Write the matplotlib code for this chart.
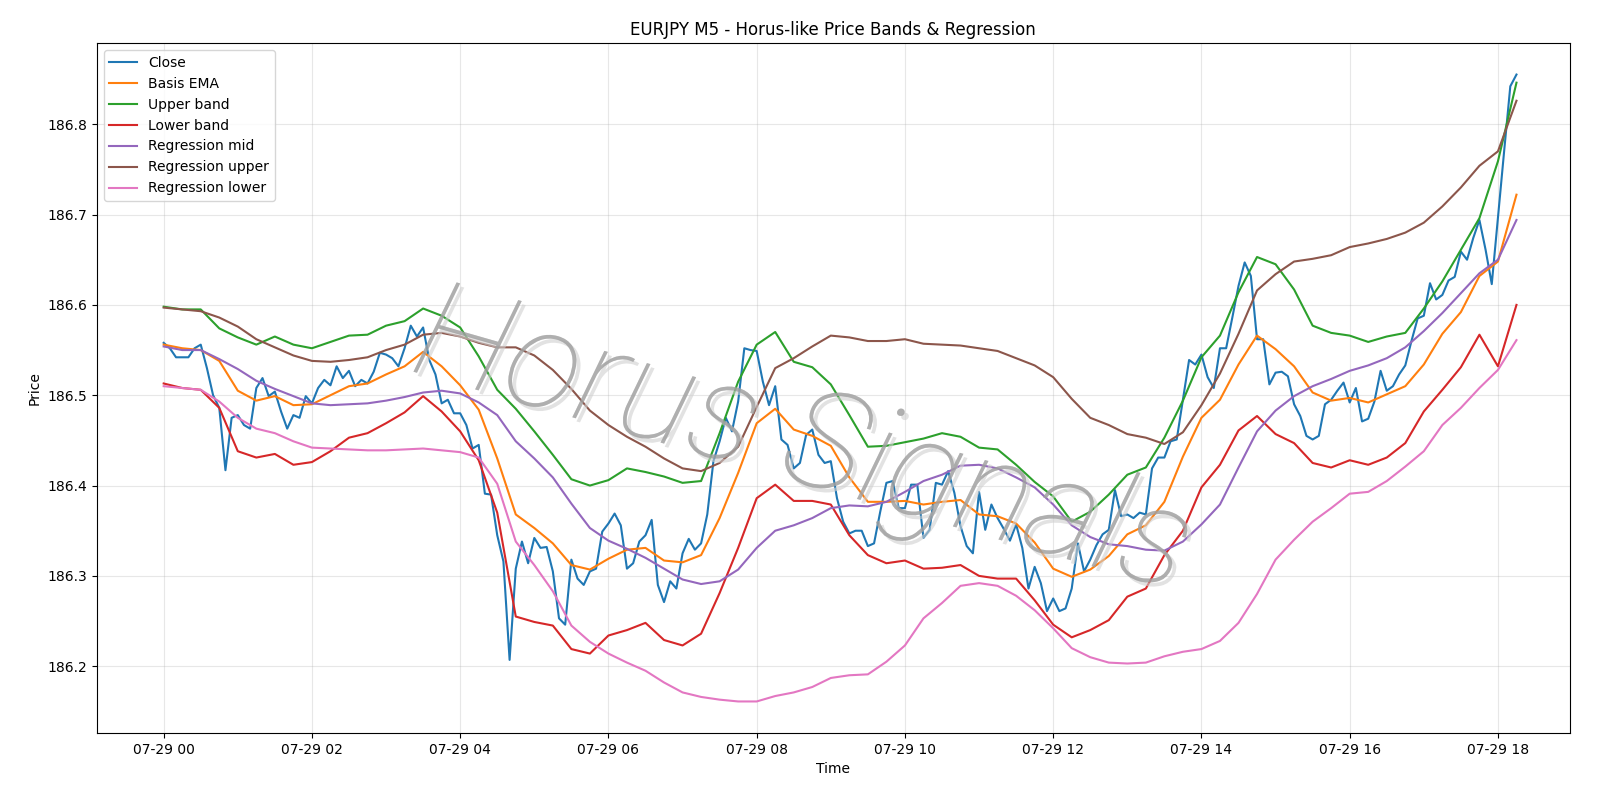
#!/usr/bin/env python3
"""EURJPY M5 price bands & regression channel with watermark."""
import matplotlib
matplotlib.use('Agg')
import matplotlib.pyplot as plt
import matplotlib.dates as mdates
import matplotlib.patheffects as pe
import pandas as pd

# 5-minute closes, 07-29 00:00 .. 18:15
close = [
    186.558, 186.552, 186.542, 186.542, 186.542, 186.552, 186.556, 186.530, 186.500, 186.486,
    186.417, 186.475, 186.478, 186.467, 186.463, 186.508, 186.519, 186.499, 186.504, 186.482,
    186.463, 186.478, 186.475, 186.499, 186.491, 186.508, 186.517, 186.511, 186.532, 186.519,
    186.527, 186.510, 186.517, 186.513, 186.526, 186.547, 186.545, 186.541, 186.532, 186.552,
    186.577, 186.565, 186.575, 186.539, 186.523, 186.491, 186.495, 186.480, 186.480, 186.467,
    186.441, 186.445, 186.391, 186.390, 186.345, 186.316, 186.207, 186.308, 186.338, 186.314,
    186.342, 186.331, 186.332, 186.305, 186.253, 186.246, 186.318, 186.297, 186.290, 186.305,
    186.308, 186.349, 186.358, 186.369, 186.356, 186.308, 186.314, 186.338, 186.345, 186.362,
    186.290, 186.271, 186.294, 186.286, 186.325, 186.341, 186.329, 186.336, 186.368, 186.427,
    186.449, 186.475, 186.460, 186.493, 186.552, 186.550, 186.549, 186.515, 186.489, 186.510,
    186.451, 186.445, 186.419, 186.425, 186.456, 186.462, 186.434, 186.425, 186.427, 186.386,
    186.360, 186.347, 186.350, 186.350, 186.333, 186.336, 186.371, 186.403, 186.405, 186.375,
    186.375, 186.401, 186.401, 186.342, 186.351, 186.403, 186.401, 186.416, 186.392, 186.355,
    186.333, 186.325, 186.393, 186.351, 186.379, 186.364, 186.352, 186.339, 186.357, 186.331,
    186.286, 186.310, 186.292, 186.261, 186.275, 186.261, 186.264, 186.286, 186.336, 186.305,
    186.318, 186.334, 186.346, 186.351, 186.395, 186.366, 186.368, 186.364, 186.370, 186.368,
    186.419, 186.431, 186.431, 186.449, 186.451, 186.495, 186.539, 186.534, 186.545, 186.520,
    186.508, 186.552, 186.552, 186.586, 186.621, 186.647, 186.632, 186.562, 186.562, 186.512,
    186.525, 186.526, 186.521, 186.490, 186.477, 186.455, 186.451, 186.455, 186.490, 186.495,
    186.505, 186.514, 186.492, 186.508, 186.471, 186.474, 186.493, 186.527, 186.505, 186.510,
    186.523, 186.533, 186.560, 186.585, 186.588, 186.624, 186.606, 186.611, 186.627, 186.631,
    186.659, 186.650, 186.674, 186.694, 186.661, 186.623, 186.697, 186.770, 186.842, 186.855,
]

# smooth series, read every 15 minutes (00:00, 00:15, ... 18:15)
basis_ema = [
    186.556, 186.552, 186.550, 186.538, 186.505, 186.494, 186.499, 186.489, 186.490, 186.500,
    186.510, 186.513, 186.523, 186.532, 186.548, 186.532, 186.511, 186.484, 186.430, 186.368,
    186.353, 186.336, 186.312, 186.307, 186.319, 186.329, 186.331, 186.317, 186.315, 186.323,
    186.364, 186.414, 186.469, 186.485, 186.462, 186.455, 186.444, 186.409, 186.382, 186.382,
    186.383, 186.379, 186.382, 186.384, 186.368, 186.366, 186.358, 186.337, 186.308, 186.299,
    186.307, 186.322, 186.346, 186.356, 186.382, 186.432, 186.475, 186.495, 186.534, 186.566,
    186.551, 186.532, 186.503, 186.494, 186.497, 186.492, 186.501, 186.510, 186.534, 186.568,
    186.592, 186.632, 186.648, 186.722,
]
upper_band = [
    186.598, 186.595, 186.595, 186.574, 186.564, 186.556, 186.565, 186.556, 186.552, 186.559,
    186.566, 186.567, 186.577, 186.582, 186.596, 186.588, 186.575, 186.543, 186.506, 186.485,
    186.460, 186.434, 186.407, 186.400, 186.406, 186.419, 186.415, 186.410, 186.403, 186.405,
    186.458, 186.515, 186.556, 186.570, 186.537, 186.531, 186.512, 186.478, 186.443, 186.444,
    186.448, 186.452, 186.458, 186.454, 186.442, 186.440, 186.423, 186.404, 186.388, 186.360,
    186.371, 186.390, 186.412, 186.420, 186.453, 186.494, 186.542, 186.566, 186.614, 186.653,
    186.645, 186.617, 186.577, 186.569, 186.566, 186.559, 186.565, 186.569, 186.596, 186.626,
    186.661, 186.696, 186.759, 186.846,
]
lower_band = [
    186.513, 186.508, 186.506, 186.486, 186.438, 186.431, 186.435, 186.423, 186.426, 186.438,
    186.453, 186.458, 186.469, 186.481, 186.499, 186.482, 186.460, 186.428, 186.370, 186.255,
    186.249, 186.245, 186.219, 186.214, 186.234, 186.240, 186.248, 186.229, 186.223, 186.236,
    186.281, 186.331, 186.386, 186.401, 186.383, 186.383, 186.379, 186.345, 186.323, 186.314,
    186.317, 186.308, 186.309, 186.312, 186.300, 186.297, 186.297, 186.273, 186.246, 186.232,
    186.240, 186.251, 186.277, 186.286, 186.323, 186.350, 186.398, 186.423, 186.461, 186.477,
    186.457, 186.447, 186.425, 186.420, 186.428, 186.423, 186.431, 186.447, 186.482, 186.506,
    186.531, 186.567, 186.532, 186.600,
]
reg_mid = [
    186.554, 186.550, 186.550, 186.540, 186.529, 186.516, 186.507, 186.499, 186.491, 186.489,
    186.490, 186.491, 186.494, 186.498, 186.503, 186.505, 186.502, 186.492, 186.478, 186.449,
    186.430, 186.409, 186.380, 186.353, 186.339, 186.330, 186.320, 186.308, 186.296, 186.291,
    186.294, 186.307, 186.331, 186.350, 186.356, 186.364, 186.375, 186.378, 186.377, 186.382,
    186.393, 186.405, 186.412, 186.422, 186.423, 186.419, 186.409, 186.398, 186.379, 186.356,
    186.343, 186.335, 186.333, 186.329, 186.328, 186.338, 186.357, 186.379, 186.420, 186.460,
    186.483, 186.499, 186.510, 186.518, 186.527, 186.533, 186.541, 186.553, 186.571, 186.591,
    186.613, 186.635, 186.650, 186.694,
]
reg_upper = [
    186.597, 186.595, 186.593, 186.586, 186.576, 186.562, 186.553, 186.544, 186.538, 186.537,
    186.539, 186.542, 186.550, 186.556, 186.567, 186.569, 186.565, 186.558, 186.553, 186.553,
    186.544, 186.528, 186.507, 186.483, 186.467, 186.454, 186.443, 186.430, 186.419, 186.416,
    186.425, 186.443, 186.487, 186.530, 186.541, 186.554, 186.566, 186.564, 186.560, 186.560,
    186.562, 186.557, 186.556, 186.555, 186.552, 186.549, 186.541, 186.533, 186.520, 186.496,
    186.475, 186.467, 186.457, 186.453, 186.446, 186.459, 186.489, 186.524, 186.568, 186.616,
    186.634, 186.648, 186.651, 186.655, 186.664, 186.668, 186.673, 186.680, 186.691, 186.709,
    186.730, 186.754, 186.770, 186.826,
]
reg_lower = [
    186.510, 186.508, 186.506, 186.493, 186.475, 186.463, 186.458, 186.449, 186.442, 186.441,
    186.440, 186.439, 186.439, 186.440, 186.441, 186.439, 186.437, 186.431, 186.402, 186.338,
    186.312, 186.283, 186.245, 186.227, 186.214, 186.204, 186.195, 186.182, 186.171, 186.166,
    186.163, 186.161, 186.161, 186.167, 186.171, 186.177, 186.187, 186.190, 186.191, 186.205,
    186.223, 186.253, 186.270, 186.289, 186.292, 186.289, 186.278, 186.262, 186.242, 186.220,
    186.210, 186.204, 186.203, 186.204, 186.211, 186.216, 186.219, 186.228, 186.248, 186.280,
    186.318, 186.340, 186.360, 186.375, 186.391, 186.393, 186.405, 186.421, 186.438, 186.467,
    186.486, 186.508, 186.528, 186.561,
]

t_close = pd.date_range('2025-07-29 00:00', periods=len(close), freq='5min')
t_smooth = pd.date_range('2025-07-29 00:00', periods=len(basis_ema), freq='15min')


def main():
    fig = plt.figure(figsize=(16, 8), dpi=100)
    ax = fig.add_axes([0.0606, 0.084, 0.9204, 0.862])

    ax.plot(t_close, close, label='Close', color='#1f77b4', lw=1.5)
    ax.plot(t_smooth, basis_ema, label='Basis EMA', color='#ff7f0e', lw=1.5)
    ax.plot(t_smooth, upper_band, label='Upper band', color='#2ca02c', lw=1.5)
    ax.plot(t_smooth, lower_band, label='Lower band', color='#d62728', lw=1.5)
    ax.plot(t_smooth, reg_mid, label='Regression mid', color='#9467bd', lw=1.5)
    ax.plot(t_smooth, reg_upper, label='Regression upper', color='#8c564b', lw=1.5)
    ax.plot(t_smooth, reg_lower, label='Regression lower', color='#e377c2', lw=1.5)

    ax.set_xlim(pd.Timestamp('2025-07-29 00:00') - pd.Timedelta(minutes=54),
                pd.Timestamp('2025-07-29 18:15') + pd.Timedelta(minutes=43))
    ax.xaxis.set_major_locator(mdates.HourLocator(byhour=range(0, 24, 2)))
    ax.xaxis.set_major_formatter(mdates.DateFormatter('%m-%d %H'))

    ax.set_title('EURJPY M5 - Horus-like Price Bands & Regression', fontsize=12)
    ax.set_xlabel('Time')
    ax.set_ylabel('Price')
    ax.grid(True, alpha=0.3)
    ax.legend(loc='upper left', fontsize=10)

    # watermark
    fig.text(0.5016, 0.444, 'Horus Signals', fontsize=99, family=['Roboto', 'DejaVu Sans'],
             style='italic', weight=100, rotation=-16, color='#a0a0a0', alpha=0.6,
             ha='center', va='center', zorder=10,
             path_effects=[pe.withSimplePatchShadow(offset=(3, -3), shadow_rgbFace='#cfcfcf', alpha=0.6),
                           pe.Normal()])

    fig.savefig('out.png', dpi=100)
    plt.close(fig)


if __name__ == '__main__':
    main()
